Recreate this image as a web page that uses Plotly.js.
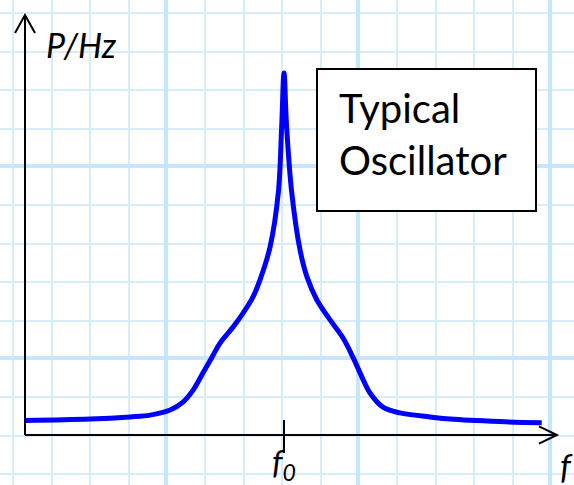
<!DOCTYPE html>
<html>
<head>
<meta charset="utf-8">
<script src="https://cdn.plot.ly/plotly-3.0.1.min.js"></script>
<style>html,body{margin:0;padding:0;background:#fff;}#chart{width:574px;height:485px;}</style>
</head>
<body>
<div id="chart"></div>
<script>
// Frequency (arbitrary units, f0 = 10) and power per Hz (arbitrary units)
const freq = [0, 2.51, 4.05, 4.83, 5.60, 6.10, 6.49, 6.87, 7.22, 7.53, 8.03, 8.42, 8.80, 9.07, 9.46, 9.78, 9.91, 10.0,
              10.10, 10.30, 10.62, 10.89, 11.27, 11.78, 12.28, 12.66, 13.01, 13.32, 13.82, 14.48, 15.64, 16.41, 18.34, 19.95];
const power = [0.40, 0.44, 0.50, 0.55, 0.69, 0.91, 1.24, 1.71, 2.15, 2.54, 2.98, 3.37, 3.81, 4.28, 5.19, 6.69, 8.52, 10.0,
               8.52, 6.69, 5.11, 4.36, 3.73, 3.18, 2.68, 2.15, 1.60, 1.16, 0.77, 0.61, 0.50, 0.44, 0.37, 0.34];
const f0 = 10;
const yLabel = "P/Hz";
const xLabel = "f";
const f0Label = "f<sub>0</sub>";
const boxText = "Typical<br>Oscillator";

const FONT = "Comic Sans MS, Lato, sans-serif";
const xMax = 20.54, yMax = 11.6;

const trace = {
  x: freq, y: power, type: 'scatter', mode: 'lines',
  line: {color: '#0000ff', width: 5, shape: 'spline', smoothing: 1},
  hoverinfo: 'skip'
};

const layout = {
  width: 574, height: 485,
  margin: {l: 0, r: 0, t: 0, b: 0},
  paper_bgcolor: '#ffffff', plot_bgcolor: '#ffffff',
  showlegend: false,
  xaxis: {range: [-0.9653, 21.197], showgrid: false, zeroline: false, showticklabels: false, showline: false, fixedrange: true},
  yaxis: {range: [-1.381, 12.017], showgrid: false, zeroline: false, showticklabels: false, showline: false, fixedrange: true},
  xaxis2: {overlaying: 'x', range: [0, 574], showticklabels: false, zeroline: false, ticks: '',
           showgrid: true, tick0: 166, dtick: 192, gridcolor: '#c8e6fa', gridwidth: 4,
           minor: {showgrid: true, tick0: 13.4, dtick: 38.4, gridcolor: '#d7edfc', gridwidth: 2}},
  yaxis2: {overlaying: 'y', range: [485, 0], showticklabels: false, zeroline: false, ticks: '',
           showgrid: true, tick0: 166, dtick: 192, gridcolor: '#c8e6fa', gridwidth: 4,
           minor: {showgrid: true, tick0: 13.4, dtick: 38.4, gridcolor: '#d7edfc', gridwidth: 2}},
  shapes: [
    // y axis with arrow
    {type: 'line', xref: 'x', yref: 'y', x0: 0, y0: 0, x1: 0, y1: yMax, line: {color: '#000', width: 2}},
    {type: 'path', xref: 'x', yref: 'y', path: `M -0.386 ${yMax-0.497} L 0 ${yMax} L 0.386 ${yMax-0.497}`, line: {color: '#000', width: 2}},
    // x axis with arrow
    {type: 'line', xref: 'x', yref: 'y', x0: 0, y0: 0, x1: xMax, y1: 0, line: {color: '#000', width: 2}},
    {type: 'path', xref: 'x', yref: 'y', path: `M ${xMax-0.695} 0.24 L ${xMax} 0 L ${xMax-0.695} -0.24`, line: {color: '#000', width: 2}},
    // f0 tick
    {type: 'line', xref: 'x', yref: 'y', x0: f0, y0: 0.414, x1: f0, y1: -0.497, line: {color: '#000', width: 2}},
    // text box
    {type: 'rect', xref: 'paper', yref: 'paper', x0: 317/574, x1: 536/574, y0: 1-211/485, y1: 1-69/485,
     fillcolor: '#ffffff', line: {color: '#000', width: 2}, layer: 'above'}
  ],
  annotations: [
    {xref: 'paper', yref: 'paper', x: 44/574, y: 1-44/485, xanchor: 'left', yanchor: 'middle', showarrow: false,
     text: '<i>' + yLabel + '</i>', font: {family: FONT, size: 34, color: '#000'}},
    {xref: 'x', yref: 'y', x: f0, y: -0.80, xanchor: 'center', yanchor: 'middle', showarrow: false,
     text: '<i>' + f0Label + '</i>', font: {family: FONT, size: 33, color: '#000'}},
    {xref: 'paper', yref: 'paper', x: 566/574, y: 1-465/485, xanchor: 'center', yanchor: 'middle', showarrow: false,
     text: '<i>' + xLabel + '</i>', font: {family: FONT, size: 34, color: '#000'}},
    {xref: 'paper', yref: 'paper', x: 337/574, y: 1-134/485, xanchor: 'left', yanchor: 'middle', showarrow: false, align: 'left',
     text: boxText, font: {family: FONT, size: 40, color: '#000'}}
  ]
};

const gridTrace = {x: [0], y: [0], xaxis: 'x2', yaxis: 'y2', mode: 'markers', marker: {opacity: 0}, hoverinfo: 'skip'};

Plotly.newPlot('chart', [gridTrace, trace], layout, {staticPlot: true, displayModeBar: false});
</script>
</body>
</html>
